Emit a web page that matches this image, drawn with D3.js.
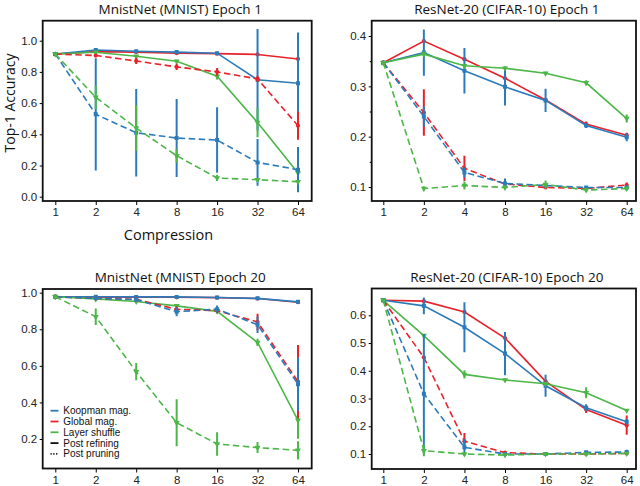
<!DOCTYPE html>
<html>
<head>
<meta charset="utf-8">
<script src="https://cdn.jsdelivr.net/npm/d3@7"></script>
<style>
  body { margin: 0; background: #fff; }
  svg { display: block; }
</style>
</head>
<body>
<svg id="chart" width="640" height="486"></svg>
<script>
// compression ratios on the x axis (log2 spaced)
const compression = [1, 2, 4, 8, 16, 32, 64];
const methods = ['Koopman mag.', 'Global mag.', 'Layer shuffle'];

// rows follow `methods`: Koopman, Global, Layer shuffle
// MnistNet (MNIST) Epoch 1
const mnistE1Refined = [
    [0.915, 0.940, 0.932, 0.927, 0.920, 0.750, 0.727],
    [0.915, 0.930, 0.927, 0.920, 0.917, 0.912, 0.883],
    [0.915, 0.926, 0.900, 0.868, 0.772, 0.475, 0.152]
];
const mnistE1RefinedErr = [
    [0.004, 0.008, 0.008, 0.008, 0.008, 0.325, 0.325],
    [0.004, 0.005, 0.005, 0.005, 0.006, 0.008, 0.008],
    [0.004, 0.008, 0.008, 0.010, 0.020, 0.094, 0.040]
];
const mnistE1Pruned = [
    [0.915, 0.528, 0.410, 0.376, 0.363, 0.220, 0.173],
    [0.915, 0.905, 0.870, 0.832, 0.800, 0.755, 0.455],
    [0.915, 0.637, 0.440, 0.263, 0.120, 0.109, 0.096]
];
const mnistE1PrunedErr = [
    [0.004, 0.360, 0.280, 0.250, 0.210, 0.150, 0.145],
    [0.004, 0.010, 0.020, 0.020, 0.025, 0.020, 0.090],
    [0.004, 0.075, 0.147, 0.045, 0.020, 0.010, 0.010]
];

// ResNet-20 (CIFAR-10) Epoch 1
const resnetE1Refined = [
    [0.347, 0.367, 0.331, 0.299, 0.272, 0.222, 0.199],
    [0.347, 0.390, 0.354, 0.316, 0.273, 0.225, 0.203],
    [0.347, 0.364, 0.341, 0.336, 0.326, 0.307, 0.236]
];
const resnetE1RefinedErr = [
    [0.003, 0.046, 0.045, 0.037, 0.023, 0.005, 0.008],
    [0.003, 0.003, 0.003, 0.003, 0.003, 0.005, 0.005],
    [0.003, 0.005, 0.004, 0.004, 0.003, 0.005, 0.008]
];
const resnetE1Pruned = [
    [0.347, 0.240, 0.129, 0.107, 0.103, 0.099, 0.099],
    [0.347, 0.248, 0.137, 0.106, 0.099, 0.097, 0.104],
    [0.347, 0.097, 0.103, 0.099, 0.105, 0.094, 0.097]
];
const resnetE1PrunedErr = [
    [0.003, 0.020, 0.010, 0.010, 0.004, 0.003, 0.005],
    [0.003, 0.046, 0.025, 0.004, 0.003, 0.003, 0.005],
    [0.003, 0.004, 0.008, 0.004, 0.008, 0.004, 0.004]
];

// MnistNet (MNIST) Epoch 20
const mnistE20Refined = [
    [0.978, 0.978, 0.977, 0.977, 0.974, 0.969, 0.950],
    [0.978, 0.976, 0.975, 0.975, 0.973, 0.968, 0.948],
    [0.978, 0.966, 0.952, 0.928, 0.898, 0.728, 0.302]
];
const mnistE20RefinedErr = [
    [0.003, 0.003, 0.003, 0.003, 0.003, 0.003, 0.004],
    [0.003, 0.003, 0.003, 0.003, 0.003, 0.003, 0.004],
    [0.003, 0.005, 0.008, 0.008, 0.008, 0.020, 0.100]
];
const mnistE20Pruned = [
    [0.978, 0.969, 0.962, 0.896, 0.910, 0.825, 0.500],
    [0.978, 0.969, 0.964, 0.909, 0.902, 0.840, 0.514],
    [0.978, 0.869, 0.568, 0.289, 0.173, 0.153, 0.138]
];
const mnistE20PrunedErr = [
    [0.003, 0.005, 0.006, 0.025, 0.020, 0.045, 0.146],
    [0.003, 0.005, 0.006, 0.015, 0.015, 0.045, 0.200],
    [0.003, 0.045, 0.047, 0.128, 0.064, 0.030, 0.050]
];

// ResNet-20 (CIFAR-10) Epoch 20
const resnetE20Refined = [
    [0.654, 0.634, 0.557, 0.462, 0.346, 0.267, 0.216],
    [0.654, 0.651, 0.612, 0.518, 0.362, 0.260, 0.204],
    [0.654, 0.527, 0.387, 0.367, 0.353, 0.321, 0.257]
];
const resnetE20RefinedErr = [
    [0.003, 0.030, 0.090, 0.078, 0.040, 0.012, 0.010],
    [0.003, 0.003, 0.005, 0.005, 0.005, 0.012, 0.035],
    [0.003, 0.006, 0.015, 0.005, 0.006, 0.020, 0.005]
];
const resnetE20Pruned = [
    [0.654, 0.317, 0.124, 0.100, 0.100, 0.106, 0.107],
    [0.654, 0.448, 0.146, 0.105, 0.100, 0.100, 0.102],
    [0.654, 0.112, 0.100, 0.096, 0.100, 0.100, 0.102]
];
const resnetE20PrunedErr = [
    [0.003, 0.216, 0.030, 0.004, 0.004, 0.005, 0.008],
    [0.003, 0.005, 0.030, 0.004, 0.004, 0.004, 0.006],
    [0.003, 0.020, 0.005, 0.004, 0.004, 0.004, 0.004]
];

const yTicksMnist = [0, 0.2, 0.4, 0.6, 0.8, 1.0];
const yTicksMnist20 = [0.2, 0.4, 0.6, 0.8, 1.0];
const yTicksResnet1 = [0.1, 0.2, 0.3, 0.4];
const yMinorResnet1 = [0.15, 0.25, 0.35];
const yTicksResnet20 = [0.1, 0.2, 0.3, 0.4, 0.5, 0.6];

const colours = { 'Koopman mag.': '#2b7bba', 'Global mag.': '#e8222a', 'Layer shuffle': '#4cb748' };
const symbols = { 'Koopman mag.': d3.symbolSquare, 'Global mag.': d3.symbolCircle, 'Layer shuffle': d3.symbolTriangle };
const tickFont = '"Liberation Sans", Arial, sans-serif';
const labelFont = '"Open Sans", "DejaVu Sans", sans-serif';

// layout of each panel (frame box, pixel range of the axes)
const panels = [
    {
        title: 'MnistNet (MNIST) Epoch 1', frame: [42.7, 20.7, 311.7, 201],
        xRange: [55.3, 298], yDomain: [0, 1], yRange: [196.7, 40.7],
        yTicks: yTicksMnist, yMinor: [],
        refined: mnistE1Refined, refinedErr: mnistE1RefinedErr,
        pruned: mnistE1Pruned, prunedErr: mnistE1PrunedErr
    },
    {
        title: 'ResNet-20 (CIFAR-10) Epoch 1', frame: [371.7, 20.7, 636, 201],
        xRange: [383.3, 626.7], yDomain: [0.1, 0.4], yRange: [187, 36],
        yTicks: yTicksResnet1, yMinor: yMinorResnet1,
        refined: resnetE1Refined, refinedErr: resnetE1RefinedErr,
        pruned: resnetE1Pruned, prunedErr: resnetE1PrunedErr
    },
    {
        title: 'MnistNet (MNIST) Epoch 20', frame: [42.7, 289, 311.7, 468.5],
        xRange: [55.3, 298], yDomain: [0.2, 1], yRange: [439, 292.7],
        yTicks: yTicksMnist20, yMinor: [],
        refined: mnistE20Refined, refinedErr: mnistE20RefinedErr,
        pruned: mnistE20Pruned, prunedErr: mnistE20PrunedErr,
        legend: true
    },
    {
        title: 'ResNet-20 (CIFAR-10) Epoch 20', frame: [371.7, 288.5, 636, 469],
        xRange: [383.3, 626.7], yDomain: [0.1, 0.6], yRange: [454, 315.3],
        yTicks: yTicksResnet20, yMinor: [],
        refined: resnetE20Refined, refinedErr: resnetE20RefinedErr,
        pruned: resnetE20Pruned, prunedErr: resnetE20PrunedErr
    }
];

const svg = d3.select('#chart');

panels.forEach(p => {
    const [x0, y0, x1, y1] = p.frame;
    const x = d3.scaleLog().base(2).domain([1, 64]).range(p.xRange);
    const y = d3.scaleLinear().domain(p.yDomain).range(p.yRange);
    const g = svg.append('g');

    // clip the marks to the frame
    const clipId = 'clip' + Math.round(x0) + '_' + Math.round(y0);
    g.append('clipPath').attr('id', clipId)
        .append('rect').attr('x', x0).attr('y', y0).attr('width', x1 - x0).attr('height', y1 - y0);

    // x axis
    const xAxis = g.append('g')
        .attr('transform', `translate(0,${y1})`)
        .call(d3.axisBottom(x).tickValues(compression).tickFormat(d3.format('d')).tickSize(4).tickPadding(3));
    xAxis.select('.domain').remove();
    xAxis.selectAll('text').attr('font-size', 11.5).attr('font-family', tickFont).attr('fill', '#222');

    // y axis
    const yAxis = g.append('g')
        .attr('transform', `translate(${x0},0)`)
        .call(d3.axisLeft(y).tickValues(p.yTicks).tickFormat(d3.format('.1f')).tickSize(3).tickPadding(2.5));
    yAxis.select('.domain').remove();
    yAxis.selectAll('text').attr('font-size', 11.5).attr('font-family', tickFont).attr('fill', '#222');
    if (p.yMinor.length) {
        const minor = g.append('g')
            .attr('transform', `translate(${x0},0)`)
            .call(d3.axisLeft(y).tickValues(p.yMinor).tickFormat('').tickSize(2));
        minor.select('.domain').remove();
    }

    const plot = g.append('g').attr('clip-path', `url(#${clipId})`);

    const line = d3.line()
        .x((d, i) => x(compression[i]))
        .y(d => y(d));

    // draw order: refined (Global, Koopman, Shuffle) then pruned (Global, Koopman, Shuffle)
    const order = [1, 0, 2];
    const layers = [];
    order.forEach(k => layers.push({ k, values: p.refined[k], err: p.refinedErr[k], dashed: false }));
    order.forEach(k => layers.push({ k, values: p.pruned[k], err: p.prunedErr[k], dashed: true }));

    layers.forEach(s => {
        const name = methods[s.k];
        const colour = colours[name];
        const pts = s.values.map((v, i) => ({ c: compression[i], v, e: s.err[i] }));

        plot.append('path')
            .datum(s.values)
            .attr('d', line)
            .attr('fill', 'none')
            .attr('stroke', colour)
            .attr('stroke-width', 1.6)
            .attr('stroke-dasharray', s.dashed ? '6.5,3.5' : null);

        // vertical error bars
        plot.selectAll(null)
            .data(pts)
            .enter()
            .append('line')
            .attr('x1', d => x(d.c))
            .attr('x2', d => x(d.c))
            .attr('y1', d => y(d.v - d.e))
            .attr('y2', d => y(d.v + d.e))
            .attr('stroke', colour)
            .attr('stroke-width', 2);

        // markers
        plot.selectAll(null)
            .data(pts)
            .enter()
            .append('path')
            .attr('transform', d => `translate(${x(d.c)},${y(d.v)})` + (s.k === 2 ? ' rotate(180)' : ''))
            .attr('d', d3.symbol().type(symbols[name]).size(s.k === 1 ? 14 : 16))
            .attr('fill', colour);
    });

    // frame
    g.append('rect')
        .attr('x', x0).attr('y', y0)
        .attr('width', x1 - x0).attr('height', y1 - y0)
        .attr('fill', 'none')
        .attr('stroke', '#111')
        .attr('stroke-width', 1.8);

    // title
    g.append('text')
        .attr('x', (x0 + x1) / 2 + 3)
        .attr('y', y0 - 7)
        .attr('text-anchor', 'middle')
        .attr('font-family', labelFont)
        .attr('font-size', 13.5)
        .attr('fill', '#111')
        .text(p.title);

    if (p.legend) {
        const entries = methods.map(m => ({ label: m, colour: colours[m], dash: null }))
            .concat([
                { label: 'Post refining', colour: '#111', dash: null },
                { label: 'Post pruning', colour: '#111', dash: '1.2,1.6' }
            ]);
        const leg = g.append('g').attr('font-family', tickFont).attr('font-size', 10);
        entries.forEach((e, i) => {
            const ly = 410.7 + i * 10.8;
            leg.append('line')
                .attr('x1', 50.5).attr('x2', 58.5)
                .attr('y1', ly).attr('y2', ly)
                .attr('stroke', e.colour)
                .attr('stroke-width', 1.8)
                .attr('stroke-dasharray', e.dash);
            leg.append('text')
                .attr('x', 63.3)
                .attr('y', ly)
                .attr('dy', '0.35em')
                .attr('fill', '#111')
                .text(e.label);
        });
    }
});

// shared axis labels
svg.append('text')
    .attr('x', 168.5)
    .attr('y', 239.5)
    .attr('text-anchor', 'middle')
    .attr('font-family', labelFont)
    .attr('font-size', 14.5)
    .attr('fill', '#111')
    .text('Compression');

svg.append('text')
    .attr('transform', 'translate(14.5,103) rotate(-90)')
    .attr('text-anchor', 'middle')
    .attr('font-family', labelFont)
    .attr('font-size', 14)
    .attr('fill', '#111')
    .text('Top-1 Accuracy');
</script>
</body>
</html>
